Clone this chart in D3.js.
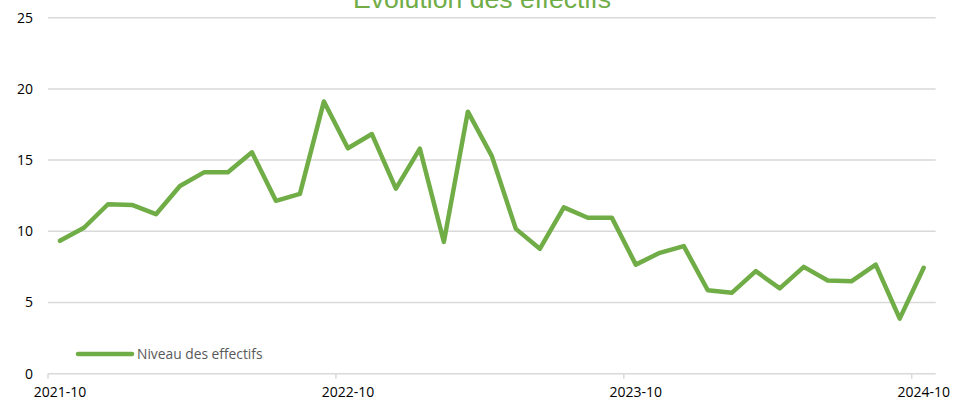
<!DOCTYPE html>
<html>
<head>
    <meta charset="utf-8">
    <title>Évolution des effectifs</title>
    <script src="https://d3js.org/d3.v7.min.js"></script>
    <style>
        body { margin: 0; background: #fff; }
        svg { display: block; }
        .grid line { stroke: #d9d9d9; stroke-width: 1.5; }
        .axis text { font-family: "Open Sans", sans-serif; font-size: 14px; fill: #000; }
        .axis path, .axis line { stroke: none; }
        .series { stroke: #70ad47; stroke-width: 4.5; fill: none; stroke-linejoin: round; stroke-linecap: round; }
    </style>
</head>
<body>
    <svg id="chart" width="953" height="402"></svg>

    <script>
        const months = [
            "2021-10", "2021-11", "2021-12", "2022-01", "2022-02", "2022-03", "2022-04",
            "2022-05", "2022-06", "2022-07", "2022-08", "2022-09", "2022-10", "2022-11",
            "2022-12", "2023-01", "2023-02", "2023-03", "2023-04", "2023-05", "2023-06",
            "2023-07", "2023-08", "2023-09", "2023-10", "2023-11", "2023-12", "2024-01",
            "2024-02", "2024-03", "2024-04", "2024-05", "2024-06", "2024-07", "2024-08",
            "2024-09", "2024-10"
        ];
        const effectifs = [
            9.33, 10.25, 11.9, 11.85, 11.2, 13.18, 14.14, 14.15, 15.55, 12.14, 12.63, 19.12,
            15.83, 16.83, 13.0, 15.8, 9.26, 18.4, 15.28, 10.17, 8.77, 11.68, 10.95, 10.96,
            7.66, 8.49, 8.96, 5.86, 5.68, 7.2, 5.99, 7.5, 6.54, 6.5, 7.66, 3.87, 7.44
        ];
        const xLabels = ["2021-10", "2022-10", "2023-10", "2024-10"];
        const yTicks = [0, 5, 10, 15, 20, 25];
        const title = "Évolution des effectifs";
        const seriesName = "Niveau des effectifs";

        const svg = d3.select("#chart");
        const plotLeft = 48, plotRight = 935.7, plotTop = 17.7, plotBottom = 373.7;

        const x = d3.scaleBand().domain(months).range([plotLeft, plotRight]).padding(0);
        const y = d3.scaleLinear().domain([0, 25]).range([plotBottom, plotTop]);

        // gridlines
        svg.append("g").attr("class", "grid")
            .selectAll("line").data(yTicks).enter().append("line")
            .attr("x1", plotLeft).attr("x2", plotRight)
            .attr("y1", d => y(d)).attr("y2", d => y(d));

        // y axis labels
        const yAxis = svg.append("g").attr("class", "axis")
            .attr("transform", `translate(${plotLeft},0)`)
            .call(d3.axisLeft(y).tickValues(yTicks).tickSize(0).tickPadding(15));
        yAxis.select(".domain").remove();

        // x axis: labels at category centres, tick marks at category starts
        const xAxis = svg.append("g").attr("class", "axis")
            .attr("transform", `translate(0,${plotBottom})`)
            .call(d3.axisBottom(x).tickValues(xLabels).tickSize(0).tickPadding(13));
        xAxis.select(".domain").remove();

        svg.append("g").attr("class", "grid")
            .selectAll("line").data(xLabels).enter().append("line")
            .attr("x1", d => x(d)).attr("x2", d => x(d))
            .attr("y1", plotBottom).attr("y2", plotBottom + 5);

        // series
        const line = d3.line()
            .x((d, i) => x(months[i]) + x.bandwidth() / 2)
            .y(d => y(d));
        svg.append("path")
            .datum(effectifs)
            .attr("class", "series")
            .attr("d", line);

        // title (cut at the top edge, as in the original)
        svg.append("text")
            .attr("x", 482).attr("y", 8)
            .attr("text-anchor", "middle")
            .style("font-family", "'Liberation Sans', Arial, sans-serif")
            .style("font-size", "26.6px")
            .style("fill", "#70ad47")
            .text(title);

        // legend
        const legend = svg.append("g").attr("transform", "translate(78,354)");
        legend.append("line")
            .attr("x1", 0).attr("x2", 54).attr("y1", 0).attr("y2", 0)
            .attr("class", "series");
        legend.append("text")
            .attr("x", 59).attr("y", 5)
            .style("font-family", "'Open Sans', sans-serif")
            .style("font-size", "13.8px")
            .style("fill", "#595959")
            .text(seriesName);
    </script>
</body>
</html>
